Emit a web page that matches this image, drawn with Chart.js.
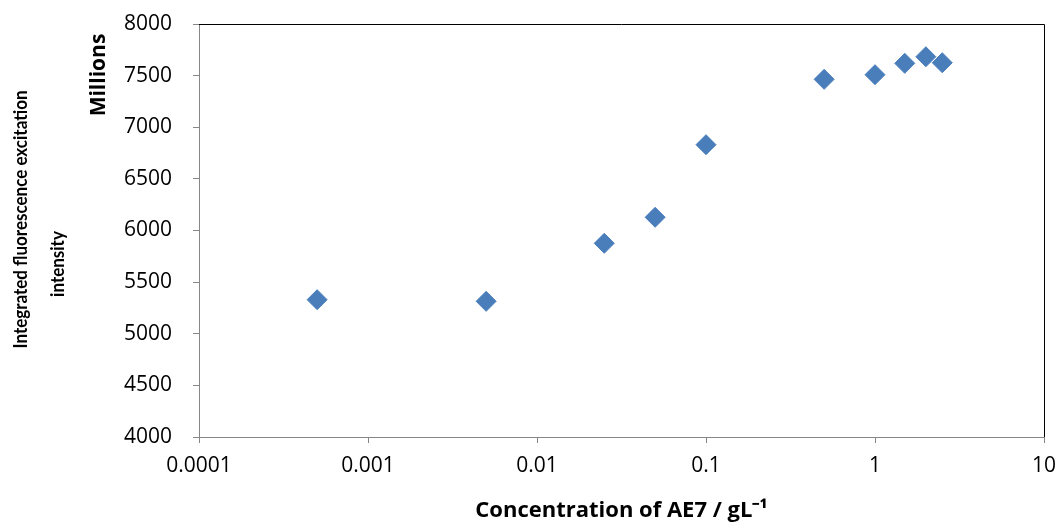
<!DOCTYPE html>
<html>
<head>
<meta charset="utf-8">
<script src="https://cdn.jsdelivr.net/npm/chart.js@4.4.1/dist/chart.umd.min.js"></script>
<style>
    body { margin: 0; background: #fff; }
    #wrap { width: 1059px; height: 524px; }
</style>
</head>
<body>
<div id="wrap"><canvas id="aeChart" width="1059" height="524"></canvas></div>
<script>
// AE7 concentration (g/L) vs integrated fluorescence excitation intensity (millions)
const concentrations = [0.0005, 0.005, 0.025, 0.05, 0.1, 0.5, 1, 1.5, 2, 2.5];
const intensities = [5330, 5314, 5876, 6128, 6831, 7464, 7509, 7619, 7683, 7625];

const xTickValues = [0.0001, 0.001, 0.01, 0.1, 1, 10];
const xTickLabels = ['0.0001', '0.001', '0.01', '0.1', '1', '10'];
const yTickValues = [4000, 4500, 5000, 5500, 6000, 6500, 7000, 7500, 8000];
const yTitleLines = ['Integrated fluorescence excitation', 'intensity'];

const points = concentrations.map((c, i) => ({ x: c, y: intensities[i] }));

const axisGrey = '#868686';

// black frame on top and right of the plot area (Excel style)
const plotFrame = {
    id: 'plotFrame',
    beforeDatasetsDraw(chart) {
        const { ctx, chartArea: a } = chart;
        ctx.save();
        ctx.strokeStyle = '#000';
        ctx.lineWidth = 1;
        ctx.beginPath();
        ctx.moveTo(Math.round(a.left), Math.round(a.top) + 0.5);
        ctx.lineTo(Math.round(a.right) + 0.5, Math.round(a.top) + 0.5);
        ctx.lineTo(Math.round(a.right) + 0.5, Math.round(a.bottom));
        ctx.stroke();
        ctx.restore();
    }
};

// rotated y title (lines are not centred on each other in the original)
// plus the "Millions" display-units label
function drawRotated(ctx, text, x, y, font, stretch) {
    ctx.save();
    ctx.font = font;
    ctx.fillStyle = '#000';
    ctx.textAlign = 'center';
    ctx.textBaseline = 'alphabetic';
    ctx.translate(x, y);
    ctx.rotate(-Math.PI / 2);
    ctx.scale(1, stretch || 1);
    ctx.fillText(text, 0, 0);
    ctx.restore();
}

const sideLabels = {
    id: 'sideLabels',
    afterDraw(chart) {
        const ctx = chart.ctx;
        drawRotated(ctx, yTitleLines[0], 27, 219.5, 'bold 17px Lato', 1.15);
        drawRotated(ctx, yTitleLines[1], 64, 264, 'bold 17px Lato', 1.15);
        drawRotated(ctx, 'Millions', 105, 75, 'bold 21px "Open Sans"');
    }
};

new Chart(document.getElementById('aeChart'), {
    type: 'scatter',
    data: {
        datasets: [{
            label: 'AE7',
            data: points,
            pointStyle: 'rectRot',
            pointRadius: 10,
            pointHoverRadius: 10,
            backgroundColor: '#4A7EBB',
            borderColor: '#4A7EBB',
            borderWidth: 1
        }]
    },
    options: {
        responsive: false,
        animation: false,
        events: [],
        layout: { padding: { top: 24, right: 15, left: 0, bottom: 0 } },
        plugins: {
            legend: { display: false },
            tooltip: { enabled: false }
        },
        scales: {
            x: {
                type: 'logarithmic',
                min: 0.0001,
                max: 10,
                afterBuildTicks: scale => {
                    scale.ticks = xTickValues.map(v => ({ value: v }));
                },
                afterFit: scale => {
                    scale.height = 87;
                    scale.paddingLeft = 0;
                    scale.paddingRight = 0;
                },
                ticks: {
                    autoSkip: false,
                    maxRotation: 0,
                    padding: 10,
                    color: '#000',
                    font: { family: '"Open Sans"', size: 21 },
                    callback: (value, index) => xTickLabels[index]
                },
                grid: {
                    drawOnChartArea: false,
                    drawTicks: true,
                    tickLength: 6,
                    color: axisGrey
                },
                border: { color: axisGrey, width: 1 },
                title: {
                    display: true,
                    text: 'Concentration of AE7 / gL\u207B\u00B9',
                    color: '#000',
                    font: { family: '"Open Sans"', size: 22, weight: 'bold' },
                    padding: { top: 0, bottom: 0 }
                }
            },
            y: {
                min: 4000,
                max: 8000,
                afterBuildTicks: scale => {
                    scale.ticks = yTickValues.map(v => ({ value: v }));
                },
                afterFit: scale => {
                    scale.width = 199;
                    scale.paddingTop = 0;
                    scale.paddingBottom = 0;
                },
                ticks: {
                    padding: 21,
                    color: '#000',
                    font: { family: '"Open Sans"', size: 21 },
                    callback: value => String(value)
                },
                grid: {
                    drawOnChartArea: false,
                    drawTicks: true,
                    tickLength: 6,
                    color: axisGrey
                },
                border: { color: axisGrey, width: 1 },
                title: { display: false }
            }
        }
    },
    plugins: [plotFrame, sideLabels]
});
</script>
</body>
</html>
